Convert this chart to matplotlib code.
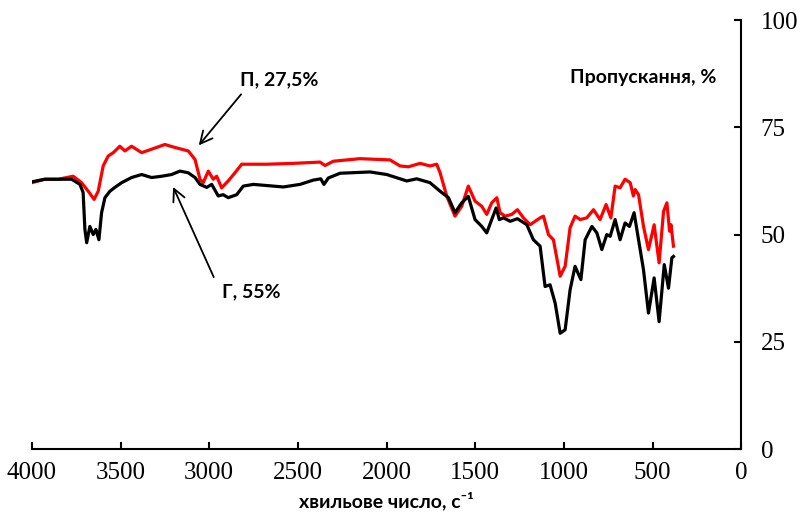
import matplotlib
matplotlib.use("Agg")
import matplotlib.pyplot as plt

# ИЧ-спектр, хвильове число (см-1) / пропускання (%)
wn_black = [4000, 3927, 3852, 3776, 3729, 3711, 3701, 3691, 3673, 3654, 3639, 3622,
            3607, 3588, 3560, 3532, 3494, 3438, 3381, 3325, 3268, 3212, 3165, 3118,
            3080, 3052, 3014, 2986, 2949, 2921, 2893, 2845, 2808, 2751, 2582, 2488,
            2413, 2371, 2353, 2328, 2262, 2093, 1999, 1886, 1830, 1755, 1698, 1651,
            1614, 1576, 1539, 1501, 1463, 1435, 1407, 1382, 1364, 1341, 1303, 1262,
            1209, 1172, 1134, 1106, 1078, 1049, 1021, 993, 965, 937, 904, 880, 842,
            814, 786, 758, 739, 711, 683, 655, 630, 604, 579, 551, 523, 491, 463,
            434, 410, 391, 382]
t_black = [62.3, 62.9, 62.9, 62.9, 61.7, 59.8, 51.2, 48.1, 51.9, 50.0, 51.2, 48.8,
           55.1, 58.6, 60.1, 61.0, 62.1, 63.3, 64.0, 63.3, 63.6, 64.0, 64.8, 64.4,
           63.3, 61.7, 61.0, 61.7, 59.0, 59.3, 58.6, 59.3, 61.3, 61.7, 61.1, 61.7,
           62.7, 63.0, 61.7, 63.2, 64.3, 64.6, 64.0, 62.5, 63.0, 62.1, 60.1, 58.6,
           55.1, 57.4, 58.9, 53.5, 51.9, 50.4, 53.5, 56.2, 53.5, 53.9, 53.1, 53.7,
           52.3, 48.8, 47.3, 37.9, 38.3, 34.0, 27.0, 27.8, 37.1, 42.6, 39.5, 48.8, 51.9,
           50.4, 46.5, 50.0, 49.6, 53.5, 48.8, 52.7, 51.9, 55.1, 48.8, 41.8, 31.7, 39.9, 29.7,
           43.0, 37.5, 44.6, 44.9]

wn_red = [4000, 3927, 3852, 3767, 3720, 3682, 3649, 3626, 3598, 3570, 3541, 3504,
          3475, 3438, 3381, 3325, 3250, 3193, 3118, 3080, 3052, 3034, 3005, 2977,
          2958, 2930, 2893, 2855, 2817, 2676, 2526, 2375, 2347, 2300, 2150, 1980,
          1924, 1877, 1811, 1755, 1717, 1698, 1660, 1614, 1576, 1539, 1501, 1463,
          1435, 1407, 1378, 1360, 1331, 1294, 1262, 1228, 1190, 1134, 1115, 1087,
          1059, 1021, 993, 965, 937, 908, 871, 833, 796, 762, 735, 711, 683, 655,
          626, 608, 598, 579, 551, 523, 491, 463, 438, 419, 404, 396, 382]
t_red = [62.1, 62.9, 62.9, 63.6, 62.1, 60.1, 58.2, 60.1, 66.0, 68.3, 69.1, 70.6,
         69.5, 70.6, 69.1, 69.9, 71.0, 70.3, 69.5, 67.5, 62.9, 62.1, 64.8, 62.9,
         63.6, 60.9, 62.5, 64.4, 66.4, 66.4, 66.6, 66.9, 66.1, 67.1, 67.7, 67.4,
         66.0, 65.8, 66.6, 66.0, 66.4, 64.4, 58.9, 54.3, 56.6, 61.3, 57.8, 56.6,
         54.7, 57.4, 58.6, 55.1, 54.3, 54.7, 55.8, 53.9, 52.3, 53.9, 54.3, 50.0,
         48.8, 40.3, 42.6, 51.6, 54.3, 53.5, 53.9, 55.8, 53.5, 57.0, 53.9, 61.3, 60.9, 62.9,
         62.1, 59.0, 60.5, 59.3, 51.9, 46.5, 52.3, 43.4, 55.4, 57.4, 50.8, 52.3, 47.3]

x_ticks = [4000, 3500, 3000, 2500, 2000, 1500, 1000, 500, 0]
y_ticks = [0, 25, 50, 75, 100]

plt.rcParams["font.family"] = ["Liberation Serif"]
label_font = ["Lato", "DejaVu Sans"]

fig = plt.figure(figsize=(7.97, 5.15), dpi=100)
ax = fig.add_axes([0.040, 0.128, 0.890, 0.833])

ax.plot(wn_red, t_red, color="#ff0000", lw=2.3)
ax.plot(wn_black, t_black, color="black", lw=2.3)

ax.set_xlim(4000, 0)
ax.set_ylim(0, 100)
ax.set_xticks(x_ticks)
ax.set_yticks(y_ticks)

for s in ["top", "left"]:
    ax.spines[s].set_visible(False)
for s in ["bottom", "right"]:
    ax.spines[s].set_linewidth(1.5)

ax.yaxis.tick_right()
ax.tick_params(axis="x", direction="in", length=5, width=1.5, pad=9, labelsize=18)
ax.tick_params(axis="y", direction="in", length=5, width=1.5, pad=14, labelsize=18)

ax.set_xlabel("хвильове число, с⁻¹", fontsize=14, fontweight="bold",
              family=label_font, labelpad=6)
ax.text(0.862, 0.865, "Пропускання, %", transform=ax.transAxes, ha="center",
        va="center", fontsize=14, fontweight="bold", family=label_font)

arrow = dict(arrowstyle="->", color="black", lw=1.3, mutation_scale=22)
ax.annotate("", xy=(3069, 70.3), xytext=(2810, 83.2), arrowprops=arrow)
ax.text(2825, 86.0, "П, 27,5%", fontsize=14, fontweight="bold",
        family=label_font, va="center", ha="left")
ax.annotate("", xy=(3210, 61.7), xytext=(2968, 39.5), arrowprops=arrow)
ax.text(2930, 36.7, "Г, 55%", fontsize=14, fontweight="bold",
        family=label_font, va="center", ha="left")

fig.savefig("out.png", dpi=100)
